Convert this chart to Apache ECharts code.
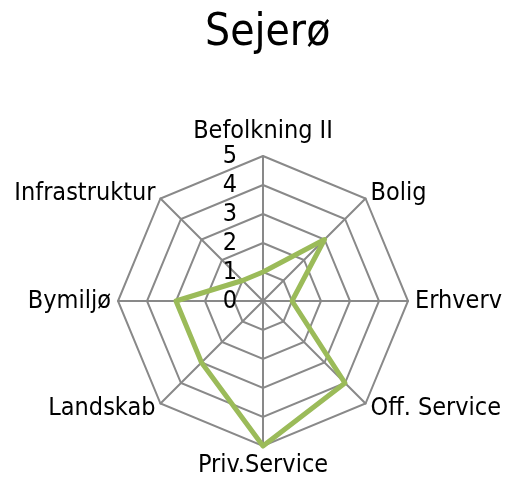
<!DOCTYPE html>
<html>
<head>
<meta charset="utf-8">
<script src="https://cdn.jsdelivr.net/npm/echarts@6/dist/echarts.min.js"></script>
<style>
  html, body { margin: 0; padding: 0; background: #fff; }
  #chart { width: 515px; height: 484px; }
</style>
</head>
<body>
<div id="chart"></div>
<script>
// 指标（按图上顺时针顺序，从顶部开始）
const categories = ['Befolkning II', 'Bolig', 'Erhverv', 'Off. Service', 'Priv.Service', 'Landskab', 'Bymiljø', 'Infrastruktur'];
const values = [1, 3, 1, 4, 5, 3, 3, 1];
const maxValue = 5;

// ECharts 雷达图默认逆时针排列，这里换个顺序
const order = [0, 7, 6, 5, 4, 3, 2, 1];

let myChart = echarts.init(document.getElementById('chart'));
const fontFam = '"DejaVu Sans Condensed", "Open Sans", sans-serif';

let option = {
  animation: false,
  title: {
    text: 'Sejerø',
    left: 200,
    top: 7,
    textStyle: { fontFamily: fontFam, fontSize: 44, fontWeight: 'normal', color: '#000' }
  },
  radar: {
    center: [263, 301],
    radius: 145,
    splitNumber: 5,
    nameGap: 7,
    axisName: { color: '#000', fontFamily: fontFam, fontSize: 25 },
    indicator: order.map((i, k) => ({
      name: categories[i],
      min: 0,
      max: maxValue,
      axisLabel: k === 0 ? {
        show: true,
        color: '#000',
        fontFamily: fontFam,
        fontSize: 25,
        margin: 26,
        formatter: v => v
      } : { show: false }
    })),
    axisLine: { lineStyle: { color: '#898989', width: 2 } },
    splitLine: { lineStyle: { color: '#898989', width: 2 } },
    splitArea: { show: false },
    axisTick: { show: false },
    axisLabel: { show: false }
  },
  series: [{
    type: 'radar',
    symbol: 'none',
    lineStyle: { color: '#9bbb59', width: 5 },
    data: [{ value: order.map(i => values[i]) }]
  }]
};
myChart.setOption(option);
</script>
</body>
</html>
